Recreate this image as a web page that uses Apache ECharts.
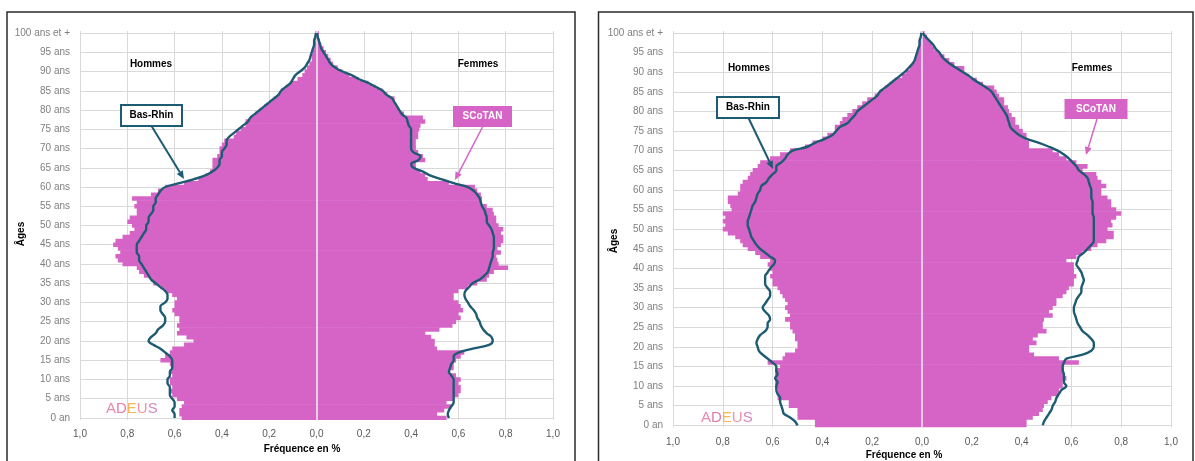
<!DOCTYPE html>
<html><head><meta charset="utf-8">
<script src="https://cdn.jsdelivr.net/npm/echarts@6/dist/echarts.min.js"></script>
<style>html,body{margin:0;padding:0;background:#fff}#c{width:1195px;height:461px}</style>
</head><body><div id="c"></div>
<script>
// Ages 0 .. 100 (index = age)
const AGES = Array.from({length: 101}, (_, i) => i);
const AGE_LABELS = AGES.map(a => a === 0 ? '0 an' : (a === 100 ? '100 ans et +' : a + ' ans'));
const X_TICKS = [-1, -0.8, -0.6, -0.4, -0.2, 0, 0.2, 0.4, 0.6, 0.8, 1];

// ---- Panel A (left) : SCoTAN bars, Bas-Rhin line, in % of population ----
const A_MEN_SCOTAN = [
0.57,0.58,0.58,0.57,0.56, 0.59,0.61,0.62,0.61,0.62, 0.62,0.61,0.62,0.61,0.62, 0.66,0.64,0.62,0.61,0.56,
0.52,0.55,0.59,0.58,0.59, 0.58,0.58,0.60,0.61,0.60, 0.60,0.59,0.61,0.64,0.66, 0.69,0.70,0.73,0.75,0.76,
0.82,0.84,0.85,0.83,0.84, 0.86,0.85,0.82,0.79,0.77, 0.78,0.80,0.79,0.76,0.76, 0.77,0.76,0.78,0.70,0.67,
0.64,0.56,0.50,0.47,0.45, 0.44,0.44,0.44,0.42,0.41, 0.41,0.40,0.39,0.35,0.34, 0.32,0.30,0.30,0.28,0.26,
0.24,0.22,0.20,0.18,0.16, 0.15,0.13,0.11,0.08,0.06, 0.05,0.04,0.03,0.02,0.02, 0.015,0.01,0.01,0.005,0.005, 0.005];
const A_WOMEN_SCOTAN = [
0.55,0.51,0.54,0.57,0.55, 0.58,0.60,0.61,0.61,0.60, 0.61,0.59,0.56,0.58,0.58, 0.59,0.61,0.625,0.51,0.50,
0.50,0.485,0.46,0.52,0.575, 0.59,0.61,0.60,0.62,0.61, 0.60,0.58,0.58,0.60,0.64, 0.68,0.72,0.73,0.75,0.81,
0.77,0.765,0.76,0.78,0.765, 0.78,0.79,0.79,0.78,0.79, 0.77,0.76,0.76,0.75,0.745, 0.72,0.70,0.70,0.695,0.68,
0.67,0.56,0.47,0.46,0.44, 0.42,0.42,0.46,0.45,0.43, 0.42,0.42,0.42,0.43,0.43, 0.435,0.44,0.46,0.45,0.37,
0.35,0.34,0.33,0.33,0.30, 0.28,0.25,0.22,0.18,0.14, 0.11,0.09,0.07,0.06,0.05, 0.04,0.03,0.02,0.015,0.01, 0.01];
const A_MEN_BASRHIN = [
0.60,0.60,0.61,0.60,0.60, 0.61,0.62,0.62,0.62,0.63, 0.63,0.62,0.62,0.61,0.61, 0.61,0.62,0.64,0.66,0.69,
0.71,0.70,0.68,0.67,0.65, 0.64,0.64,0.65,0.66,0.66, 0.64,0.63,0.63,0.64,0.66, 0.68,0.70,0.71,0.72,0.73,
0.74,0.75,0.75,0.76,0.76, 0.76,0.75,0.74,0.73,0.72, 0.72,0.71,0.71,0.70,0.69, 0.69,0.68,0.68,0.67,0.66,
0.64,0.58,0.52,0.47,0.44, 0.42,0.41,0.41,0.40,0.40, 0.39,0.38,0.38,0.37,0.35, 0.33,0.31,0.29,0.28,0.26,
0.24,0.22,0.20,0.18,0.16, 0.15,0.13,0.11,0.10,0.09, 0.07,0.05,0.04,0.03,0.025, 0.02,0.015,0.01,0.01,0.005, 0.003];
const A_WOMEN_BASRHIN = [
0.56,0.555,0.56,0.57,0.58, 0.58,0.58,0.58,0.58,0.58, 0.58,0.57,0.56,0.565,0.57, 0.58,0.58,0.60,0.66,0.73,
0.745,0.74,0.72,0.705,0.695, 0.69,0.68,0.675,0.665,0.65, 0.64,0.63,0.625,0.63,0.645, 0.66,0.69,0.71,0.725,0.73,
0.735,0.74,0.745,0.745,0.75, 0.75,0.75,0.75,0.745,0.74, 0.73,0.72,0.72,0.715,0.71, 0.70,0.695,0.69,0.68,0.665,
0.64,0.58,0.53,0.48,0.45, 0.41,0.40,0.43,0.44,0.41, 0.40,0.40,0.40,0.40,0.40, 0.40,0.39,0.385,0.38,0.36,
0.35,0.34,0.33,0.32,0.295, 0.28,0.25,0.22,0.18,0.15, 0.11,0.08,0.06,0.05,0.04, 0.03,0.02,0.015,0.01,0.005, 0.003];

// ---- Panel B (right) ----
const B_MEN_SCOTAN = [
0.43,0.43,0.50,0.50,0.50, 0.535,0.535,0.58,0.58,0.58, 0.59,0.59,0.59,0.59,0.59, 0.57,0.62,0.56,0.55,0.51,
0.50,0.50,0.51,0.51,0.52, 0.53,0.53,0.55,0.53,0.54, 0.55,0.54,0.55,0.56,0.57, 0.58,0.60,0.60,0.61,0.60,
0.61,0.62,0.61,0.65,0.67, 0.70,0.72,0.73,0.75,0.78, 0.80,0.79,0.80,0.79,0.80, 0.765,0.77,0.78,0.78,0.74,
0.73,0.73,0.72,0.70,0.69, 0.68,0.66,0.65,0.61,0.57, 0.53,0.47,0.44,0.40,0.38, 0.35,0.35,0.33,0.32,0.30,
0.28,0.26,0.24,0.22,0.19, 0.17,0.15,0.13,0.11,0.08, 0.065,0.05,0.04,0.03,0.025, 0.02,0.015,0.01,0.01,0.005, 0.005];
const B_WOMEN_SCOTAN = [
0.42,0.42,0.445,0.47,0.485, 0.49,0.505,0.52,0.55,0.55, 0.565,0.565,0.58,0.57,0.57, 0.565,0.63,0.55,0.45,0.43,
0.43,0.46,0.445,0.465,0.50, 0.485,0.485,0.49,0.525,0.51, 0.525,0.54,0.54,0.565,0.58, 0.59,0.61,0.61,0.62,0.61,
0.61,0.61,0.58,0.62,0.645, 0.68,0.705,0.74,0.77,0.77, 0.745,0.765,0.76,0.78,0.80, 0.78,0.76,0.76,0.745,0.72,
0.72,0.74,0.72,0.705,0.70, 0.645,0.665,0.62,0.58,0.55, 0.525,0.43,0.43,0.42,0.42, 0.405,0.39,0.375,0.375,0.36,
0.35,0.345,0.33,0.33,0.31, 0.30,0.29,0.245,0.22,0.19, 0.17,0.17,0.13,0.11,0.09, 0.07,0.05,0.04,0.03,0.02, 0.01];
const B_MEN_BASRHIN = [
0.50,0.51,0.53,0.555,0.56, 0.565,0.57,0.57,0.58,0.585, 0.585,0.58,0.59,0.58,0.585, 0.585,0.60,0.62,0.64,0.655,
0.66,0.665,0.66,0.65,0.63, 0.62,0.62,0.61,0.615,0.63, 0.64,0.63,0.62,0.61,0.61, 0.62,0.63,0.63,0.63,0.62,
0.61,0.595,0.59,0.61,0.63, 0.65,0.665,0.675,0.685,0.69, 0.695,0.70,0.70,0.695,0.69, 0.685,0.68,0.67,0.665,0.66,
0.65,0.645,0.625,0.615,0.60, 0.585,0.585,0.565,0.55,0.54, 0.52,0.46,0.43,0.39,0.36, 0.345,0.33,0.30,0.285,0.27,
0.26,0.24,0.22,0.20,0.18, 0.17,0.15,0.13,0.11,0.09, 0.07,0.055,0.04,0.03,0.025, 0.02,0.015,0.01,0.01,0.005, 0.003];
const B_WOMEN_BASRHIN = [
0.485,0.49,0.50,0.51,0.52, 0.525,0.535,0.54,0.55,0.56, 0.58,0.57,0.57,0.57,0.565, 0.565,0.57,0.58,0.645,0.68,
0.69,0.69,0.68,0.665,0.645, 0.635,0.625,0.62,0.615,0.61, 0.61,0.615,0.62,0.63,0.64, 0.64,0.645,0.65,0.645,0.64,
0.63,0.62,0.625,0.63,0.65, 0.665,0.68,0.69,0.69,0.69, 0.69,0.69,0.69,0.69,0.685, 0.685,0.685,0.685,0.68,0.68,
0.68,0.675,0.67,0.665,0.65, 0.63,0.62,0.605,0.59,0.57, 0.545,0.51,0.47,0.42,0.39, 0.37,0.355,0.35,0.345,0.34,
0.33,0.32,0.31,0.30,0.29, 0.28,0.26,0.235,0.21,0.19, 0.165,0.14,0.115,0.095,0.08, 0.07,0.055,0.045,0.03,0.015, 0.003];

const PINK = '#D664C6';
const TEAL = '#1D5B73';
const GRID = '#D9D9D9';
const FONT = 'Liberation Sans, Arial, sans-serif';

const chart = echarts.init(document.getElementById('c'), null, {renderer: 'canvas'});

const PANELS = [
  {grid: {left: 80, top: 31.1, width: 473, height: 388.8}, men: A_MEN_SCOTAN, women: A_WOMEN_SCOTAN, menL: A_MEN_BASRHIN, womenL: A_WOMEN_BASRHIN, labelMargin: 9},
  {grid: {left: 673, top: 31.0, width: 498, height: 396.3}, men: B_MEN_SCOTAN, women: B_WOMEN_SCOTAN, menL: B_MEN_BASRHIN, womenL: B_WOMEN_BASRHIN, labelMargin: 10}
];

const grids = [], xAxes = [], yAxes = [], series = [];
PANELS.forEach((p, i) => {
  grids.push(Object.assign({containLabel: false}, p.grid));
  xAxes.push({
    type: 'value', gridIndex: i, min: X_TICKS[0], max: X_TICKS[X_TICKS.length - 1], interval: 0.2,
    axisLine: {show: false}, axisTick: {show: false},
    splitLine: {show: true, lineStyle: {color: GRID, width: 1}},
    axisLabel: {margin: p.labelMargin, color: '#595959', fontSize: 10, fontFamily: FONT,
      formatter: v => Math.abs(v).toFixed(1).replace('.', ',')}
  });
  yAxes.push({
    type: 'category', gridIndex: i, data: AGE_LABELS, boundaryGap: true,
    axisLine: {show: false}, axisTick: {show: false},
    axisLabel: {interval: 4, margin: 10, color: '#7F7F7F', fontSize: 10, fontFamily: FONT},
    splitLine: {show: true, interval: 4, alignWithLabel: true, lineStyle: {color: GRID, width: 1}}
  });
  series.push({
    type: 'bar', xAxisIndex: i, yAxisIndex: i, barGap: '-100%', barWidth: '118%',
    data: p.men.map(v => -v), itemStyle: {color: PINK}, silent: true
  });
  series.push({
    type: 'bar', xAxisIndex: i, yAxisIndex: i, barGap: '-100%', barWidth: '118%',
    data: p.women, itemStyle: {color: PINK}, silent: true,
    markLine: {silent: true, symbol: 'none', label: {show: false}, z: 4,
      lineStyle: {color: '#EDEDED', width: 1.5, type: 'solid'}, data: [{xAxis: 0}]}
  });
  [p.menL.map(v => -v), p.womenL].forEach(d => series.push({
    type: 'line', xAxisIndex: i, yAxisIndex: i, data: d, smooth: 0.35, symbol: 'none', z: 6,
    lineStyle: {color: TEAL, width: 2.4}, silent: true
  }));
});

function arrow(x1, y1, x2, y2, color, w) {
  const ang = Math.atan2(y2 - y1, x2 - x1), L = 8, H = 3.5;
  const bx = x2 - L * Math.cos(ang), by = y2 - L * Math.sin(ang);
  return [
    {type: 'line', shape: {x1: x1, y1: y1, x2: bx, y2: by}, style: {stroke: color, lineWidth: w}, z: 20},
    {type: 'polygon', shape: {points: [[x2, y2],
      [bx + H * Math.sin(ang), by - H * Math.cos(ang)],
      [bx - H * Math.sin(ang), by + H * Math.cos(ang)]]}, style: {fill: color}, z: 20}
  ];
}
function txt(x, y, text, opts) {
  return Object.assign({type: 'text', x: x, y: y, z: 21, style: Object.assign({
    text: text, fill: '#000', fontSize: 10, fontWeight: 'bold', fontFamily: FONT,
    textAlign: 'center', textVerticalAlign: 'middle', align: 'center', verticalAlign: 'middle'}, opts || {})});
}
function logo(x, y) {
  return {type: 'text', x: x, y: y, z: 21, style: {
    text: '{a|A}{d|D}{e|E}{u|U}{s|S}', fontSize: 15, fontFamily: 'Lato, sans-serif',
    align: 'left', verticalAlign: 'middle', textAlign: 'left', textVerticalAlign: 'middle',
    rich: {a: {fill: '#E98AB0', fontSize: 15}, d: {fill: '#E57CA6', fontSize: 15}, e: {fill: '#F5B75A', fontSize: 15},
      u: {fill: '#EC96A4', fontSize: 15}, s: {fill: '#D688C2', fontSize: 15}}}};
}
function panelGraphics(o) {
  const g = [];
  g.push({type: 'rect', shape: {x: o.fx, y: 12, width: o.fw, height: 470}, style: {fill: 'none', stroke: '#2b2b2b', lineWidth: 1.5}, z: 0});
  g.push(txt(o.hom[0], o.hom[1], 'Hommes'));
  g.push(txt(o.fem[0], o.fem[1], 'Femmes'));
  g.push({type: 'rect', shape: {x: o.br[0], y: o.br[1], width: o.br[2], height: o.br[3]}, style: {fill: '#fff', stroke: TEAL, lineWidth: 2}, z: 20});
  g.push(txt(o.br[0] + o.br[2] / 2, o.br[1] + o.br[3] / 2, 'Bas-Rhin'));
  g.push(...arrow(o.bra[0], o.bra[1], o.bra[2], o.bra[3], TEAL, 2));
  g.push({type: 'rect', shape: {x: o.sc[0], y: o.sc[1], width: o.sc[2], height: o.sc[3]}, style: {fill: PINK}, z: 20});
  g.push(txt(o.sc[0] + o.sc[2] / 2, o.sc[1] + o.sc[3] / 2, 'SCoTAN', {fill: '#fff'}));
  g.push(...arrow(o.sca[0], o.sca[1], o.sca[2], o.sca[3], PINK, 1.5));
  g.push(logo(o.logo[0], o.logo[1]));
  g.push(Object.assign(txt(o.ages[0], o.ages[1], 'Âges'), {rotation: Math.PI / 2}));
  g.push(txt(o.xn[0], o.xn[1], 'Fréquence en %'));
  return g;
}

const graphics = [].concat(
  panelGraphics({fx: 7, fw: 568, hom: [151, 64], fem: [478, 64], br: [121, 105, 61, 21], bra: [151.5, 126, 184, 179],
    sc: [453, 106, 59, 21], sca: [482.5, 127, 455, 180], logo: [106, 409], ages: [21, 234], xn: [302, 449]}),
  panelGraphics({fx: 598.5, fw: 594.5, hom: [749, 68], fem: [1092, 68], br: [717, 97, 62, 21], bra: [748.5, 118, 773, 169],
    sc: [1064.5, 99, 63, 20], sca: [1097, 119, 1086, 155], logo: [701, 418], ages: [614, 241], xn: [904, 455]})
);

chart.setOption({
  animation: false,
  backgroundColor: '#fff',
  grid: grids, xAxis: xAxes, yAxis: yAxes, series: series,
  graphic: {elements: graphics}
});
</script></body></html>
